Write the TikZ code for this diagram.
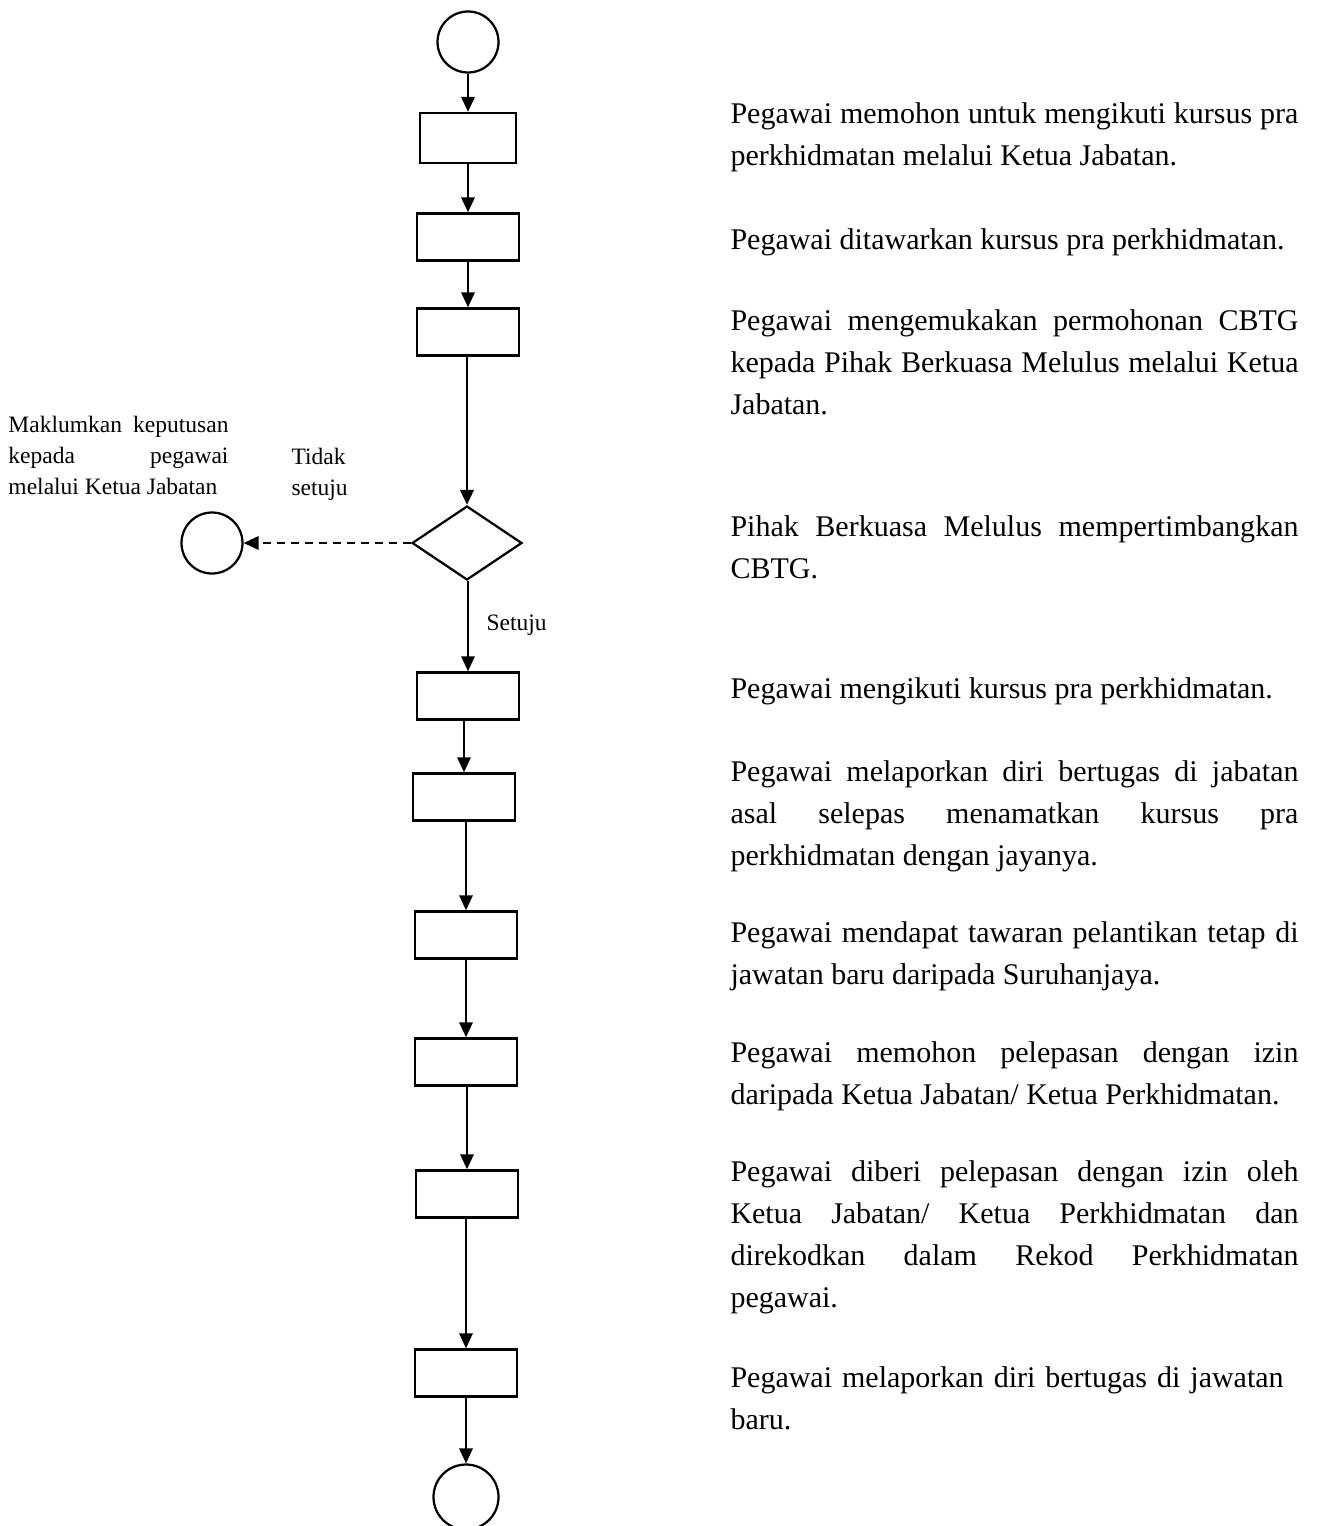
\documentclass[tikz,border=0pt]{standalone}
\usepackage{fontspec}
\setmainfont{Liberation Serif}
\usetikzlibrary{arrows.meta,shapes.geometric}
\hyphenpenalty=10000
\exhyphenpenalty=10000

\begin{document}
\begin{tikzpicture}[x=0.4pt, y=-0.4pt, >={Triangle[width=5.4pt,length=6pt]},
  every node/.style={inner sep=0pt},
  proc/.style={draw, line width=1pt, minimum width=40.8pt, minimum height=18.8pt},
  term/.style={circle, draw, line width=0.9pt, minimum size=24.4pt},
  decide/.style={diamond, draw, line width=0.9pt, minimum width=44pt, minimum height=29.6pt},
  flow/.style={->, line width=0.9pt},
  flowthin/.style={->, line width=0.7pt},
  desc/.style={anchor=base west, text width=227.2pt, align=justify, font=\fontsize{12}{16.8}\selectfont},
  note/.style={anchor=base west, font=\fontsize{9.4}{12.4}\selectfont}]
  \useasboundingbox (0,0) rectangle (1338,1526);
  % carta alir
  \node[term] (mula) at (468,42) {};
  \node[proc, minimum width=38.4pt, minimum height=20pt] (s1) at (468,138) {};
  \node[proc] (s2) at (468,237) {};
  \node[proc] (s3) at (468,332) {};
  \node[decide] (dia) at (467,543) {};
  \node[term] (maklum) at (212,543) {};
  \node[proc] (s4) at (468,696) {};
  \node[proc] (s5) at (464,797) {};
  \node[proc] (s6) at (466,935) {};
  \node[proc] (s7) at (466,1062) {};
  \node[proc] (s8) at (467,1194) {};
  \node[proc] (s9) at (466,1373) {};
  \node[term, minimum size=26pt] (tamat) at (466,1497) {};
  \draw[flow] (mula) -- (s1);
  \draw[flow] (s1) -- (s2);
  \draw[flow] (s2) -- (s3);
  \draw[flow] (s3.south -| dia) -- (dia);
  \draw[flowthin, dash pattern=on 3.2pt off 2.4pt] (dia) -- (maklum);
  \draw[flowthin] (dia.south -| s4) -- (s4);
  \draw[flowthin] (s4.south -| s5) -- (s5);
  \draw[flowthin] (s5.south -| s6) -- (s6);
  \draw[flowthin] (s6) -- (s7);
  \draw[flowthin] (s7.south -| s8) -- (s8);
  \draw[flowthin] (s8.south -| s9) -- (s9);
  \draw[flowthin] (s9) -- (tamat);
  % label keputusan
  \node[note, text width=88pt, align=justify] (ket) at (8,432)
    {Maklumkan keputusan\linebreak kepada pegawai\linebreak melalui Ketua Jabatan};
  \node[note, align=left] (tidak) at (291,495) {Tidak\\setuju};
  \node[note] (setuju) at (486,630) {Setuju};
  % penerangan
  \node[desc] (d1) at (730,123) {Pegawai memohon untuk mengikuti kursus pra\linebreak perkhidmatan melalui Ketua Jabatan.};
  \node[desc] (d2) at (730,249) {Pegawai ditawarkan kursus pra perkhidmatan.};
  \node[desc] (d3) at (730,330) {Pegawai mengemukakan permohonan CBTG\linebreak kepada Pihak Berkuasa Melulus melalui Ketua\linebreak Jabatan.};
  \node[desc] (d4) at (730,536) {Pihak Berkuasa Melulus mempertimbangkan\linebreak CBTG.};
  \node[desc] (d5) at (730,698) {Pegawai mengikuti kursus pra perkhidmatan.};
  \node[desc] (d6) at (730,781) {Pegawai melaporkan diri bertugas di jabatan\linebreak asal selepas menamatkan kursus pra\linebreak perkhidmatan dengan jayanya.};
  \node[desc] (d7) at (730,942) {Pegawai mendapat tawaran pelantikan tetap di\linebreak jawatan baru daripada Suruhanjaya.};
  \node[desc] (d8) at (730,1062) {Pegawai memohon pelepasan dengan izin\linebreak daripada Ketua Jabatan/ Ketua Perkhidmatan.};
  \node[desc] (d9) at (730,1181) {Pegawai diberi pelepasan dengan izin oleh\linebreak Ketua Jabatan/ Ketua Perkhidmatan dan\linebreak direkodkan dalam Rekod Perkhidmatan\linebreak pegawai.};
  \node[desc, align=left] (d10) at (730,1387) {Pegawai melaporkan diri bertugas di jawatan\\baru.};
\end{tikzpicture}
\end{document}
